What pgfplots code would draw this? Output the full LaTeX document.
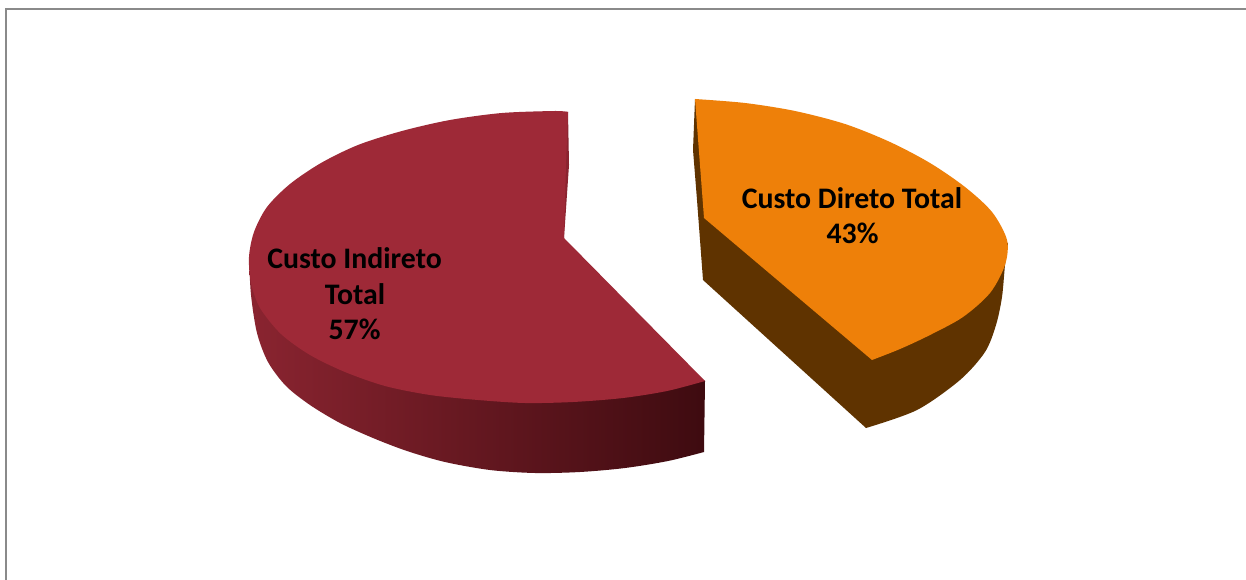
\documentclass[border=0pt]{standalone}
\usepackage{fontspec}
\setmainfont{Carlito}
\usepackage{pgfplots}
\pgfplotsset{compat=1.18}
\definecolor{redtop}{HTML}{9E2937}
\definecolor{redL}{HTML}{8A2430}
\definecolor{redM}{HTML}{641620}
\definecolor{redR}{HTML}{3E0B10}
\definecolor{orangetop}{HTML}{EE8009}
\definecolor{brownwall}{HTML}{5F3300}
\definecolor{framegray}{HTML}{8A8A8A}
\begin{document}
\begin{tikzpicture}
\begin{axis}[
  scale only axis, width=1246pt, height=580pt,
  xmin=0, xmax=1246, ymin=0, ymax=580, y dir=reverse,
  hide axis
]
% page background and frame
\addplot[draw=none, fill=white] coordinates {(0,0)(1246,0)(1246,580)(0,580)} -- cycle;
\addplot[framegray, line width=2pt] coordinates {(6,580)(6,9)(1246,9)};
% red side wall
\addplot[draw=none, left color=redL, middle color=redM, right color=redR, smooth] coordinates {
 (249,257)(251,295)(257,333)(268,362)(286,386)(310,405)(340,423)(373,438)(407,451)(445,462)(490,470)(535,473)(580,472)(625,468)(668,461)(704,452)}
 -- (axis cs:705,381) -- (axis cs:560,300) -- (axis cs:400,300) -- cycle;
% red cut-face sliver
\addplot[draw=none, fill=redL] coordinates {(566,112)(568,112)(569,165)(564,238)(562,238)(565,165)} -- cycle;
% red top face
\addplot[draw=none, fill=redtop, smooth] coordinates {
 (568,112)(555,111)(502,113)(450,120)(402,131)(358,145)(321,163)(290,184)(267,207)(254,232)(249,257)(251,283)(260,308)(281,334)(310,355)(345,372)(385,386)(430,395)(478,400)(525,403)(573,402)(623,398)(667,391)(705,381)}
 -- (axis cs:564,238) -- (axis cs:566,165) -- cycle;
% orange side wall
\addplot[draw=none, fill=brownwall, smooth] coordinates {
 (1008,243)(1005,265)(1002,297)(996,325)(985,352)(960,380)(917,410)(866,428)}
 -- (axis cs:703,280) -- (axis cs:697,200) -- (axis cs:693,150) -- (axis cs:695,99) -- (axis cs:800,200) -- cycle;
% orange top face
\addplot[draw=none, fill=orangetop, smooth] coordinates {
 (695,99)(745,103)(795,111)(845,124)(890,142)(930,163)(965,187)(992,212)(1007,240)(1005,265)(990,293)(963,317)(930,335)(900,349)(872,360)}
 -- (axis cs:704,218) -- cycle;
% labels
\tikzset{lab/.style={font=\fontsize{29.8}{34}\selectfont\bfseries, text=black, anchor=center}}
\node[lab] at (axis cs:354.5,258) {Custo Indireto};
\node[lab] at (axis cs:355,294) {Total};
\node[lab] at (axis cs:354.5,329) {57\%};
\node[lab] at (axis cs:852,198) {Custo Direto Total};
\node[lab] at (axis cs:852.5,233) {43\%};
\end{axis}
\end{tikzpicture}
\end{document}
